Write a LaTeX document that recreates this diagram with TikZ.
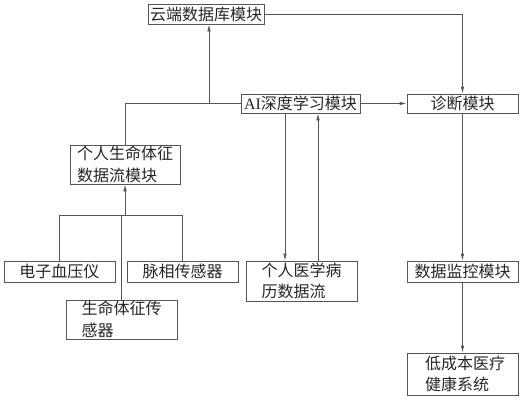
\documentclass[tikz,border=0pt]{standalone}
\usepackage{fontspec}
\setmainfont{Noto Sans CJK SC}
\newfontfamily\latinserif{Liberation Serif}
\usetikzlibrary{arrows.meta}
\definecolor{linec}{RGB}{85,85,85}
\begin{document}
\begin{tikzpicture}[x=1pt,y=-1pt,
  box/.style={draw=linec,line width=0.8pt,inner sep=0pt,align=left,
    font=\fontsize{16}{21.5}\selectfont,text=black!85},
  conn/.style={draw=linec,line width=0.8pt},
  arr/.style={conn,-{Latex[length=7pt,width=3.5pt]}}]
\useasboundingbox (0,0) rectangle (522,400);
\node[box,minimum width=116pt,minimum height=20pt] (cloud) at (206,14) {云端数据库模块};
\node[box,minimum width=119pt,minimum height=19pt] (ai) at (300.5,103.5) {{\latinserif AI}深度学习模块};
\node[box,minimum width=111pt,minimum height=19pt] (diag) at (462.5,103.5) {诊断模块};
\node[box,minimum width=110pt,minimum height=39pt] (pvs) at (125,164.5) {个人生命体征\\数据流模块};
\node[box,minimum width=111pt,minimum height=21pt] (bp) at (59.5,271.5) {电子血压仪};
\node[box,minimum width=111pt,minimum height=21pt] (pulse) at (182.5,271.5) {脉相传感器};
\node[box,minimum width=111pt,minimum height=39pt] (vs) at (121.5,319.5) {生命体征传\\感器};
\node[box,minimum width=111pt,minimum height=40pt] (med) at (301.5,281) {个人医学病\\历数据流};
\node[box,minimum width=111pt,minimum height=42pt] (low) at (462.5,374) {\hspace*{5pt}低成本医疗\\\hspace*{5pt}健康系统};
\node[box,minimum width=111pt,minimum height=21pt] (mon) at (462.5,271.5) {数据监控模块};
\coordinate (j1) at (209,103.5);
\coordinate (j2) at (125,215);
% cloud to diagnosis
\draw[arr] (cloud.east) -| (diag.north);
% personal stream and AI to cloud
\draw[conn] (pvs.north) |- (ai.west);
\draw[arr] (j1) -- (j1 |- cloud.south);
% AI to diagnosis
\draw[arr] (ai.east) -- (diag.west);
% AI <-> medical record
\draw[arr] ([xshift=-15.5pt]ai.south) -- ([xshift=-15.5pt]ai.south |- med.north);
\draw[arr] ([xshift=16.5pt]med.north) -- ([xshift=16.5pt]med.north |- ai.south);
% diagnosis chain
\draw[arr] (diag.south) -- (mon.north);
\draw[arr] (mon.south) -- (low.north);
% sensors to personal stream
\draw[conn] (bp.north) -- (bp.north |- j2) -- (pulse.north |- j2) -- (pulse.north);
\draw[arr] (j2) -- (pvs.south);
\draw[conn] (j2 -| vs.north) -- (vs.north);
\end{tikzpicture}
\end{document}
